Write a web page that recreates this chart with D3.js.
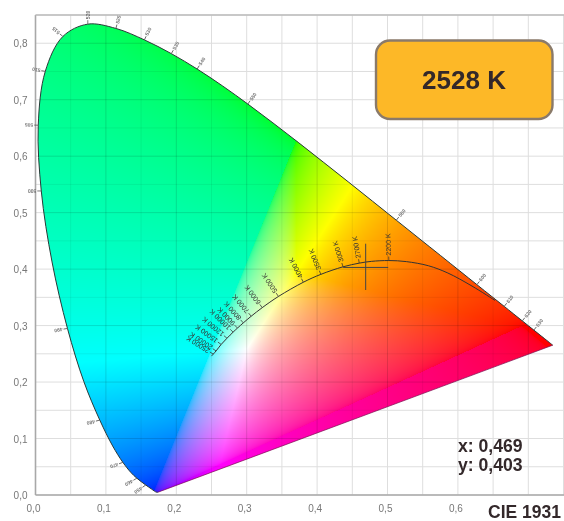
<!DOCTYPE html>
<html><head><meta charset="utf-8">
<style>html,body{margin:0;padding:0;background:#fff}svg{display:block;filter:blur(.45px)}</style>
<script src="https://cdn.jsdelivr.net/npm/d3@7"></script></head><body>
<script>
const xTicks=[0,0.1,0.2,0.3,0.4,0.5,0.6];
const yTicks=[0,0.1,0.2,0.3,0.4,0.5,0.6,0.7,0.8];
const gridX=d3.range(0,16).map(i=>i*0.05);
const gridY=d3.range(0,18).map(i=>i*0.05);
const locusX=[.1741,.1733,.1726,.1714,.1689,.1644,.1566,.1440,.1355,.1241,.1096,.0913,.0687,.0454,.0235,.0082,.0039,.0139,.0389,.0743,.1142,.1547,.1929,.2296,.2658,.3016,.3373,.3731,.4087,.4441,.4788,.5125,.5448,.5752,.6029,.6270,.6482,.6658,.6915,.7079,.7190,.7260,.7300,.7347];
const locusY=[.0050,.0048,.0048,.0051,.0069,.0109,.0177,.0297,.0399,.0578,.0868,.1327,.2007,.2950,.4127,.5384,.6548,.7502,.8120,.8338,.8262,.8059,.7816,.7543,.7243,.6923,.6589,.6245,.5896,.5547,.5202,.4866,.4544,.4242,.3965,.3725,.3514,.3340,.3083,.2920,.2809,.2740,.2700,.2653];
const nmLabels=[450,460,470,480,490,500,505,510,515,520,525,530,535,540,550,580,600,610,620,630];
const nmX=[.1566,.1440,.1241,.0913,.0454,.0082,.0039,.0139,.0389,.0743,.1142,.1547,.1929,.2296,.3016,.5125,.6270,.6658,.6915,.7079];
const nmY=[.0177,.0297,.0578,.1327,.2950,.5384,.6548,.7502,.8120,.8338,.8262,.8059,.7816,.7543,.6923,.4866,.3725,.3340,.3083,.2920];
const nmAngle=[-215,-210,-200,-195,-190,-180,-178,-170,-140,-90,-75,-65,-60,-58,-55,-52,-52,-52,-52,-52];
const planckX=[.2500,.2525,.2565,.2637,.2720,.2807,.2869,.2952,.3064,.3221,.3451,.3805,.4053,.4369,.4599,.4770,.5019,.5267,.5580,.5857,.6200,.6527];
const planckY=[.2460,.2495,.2551,.2666,.2776,.2884,.2956,.3048,.3166,.3318,.3516,.3768,.3907,.4041,.4106,.4137,.4152,.4133,.4060,.3931,.3700,.3445];
const cctLabels=["25000 K","20000 K","15000 K","12000 K","10000 K","9000 K","8000 K","7000 K","6000 K","5000 K","4000 K","3500 K","3000 K","2700 K","2200 K"];
const cctX=[.2525,.2565,.2637,.2720,.2807,.2869,.2952,.3064,.3221,.3451,.3805,.4053,.4369,.4599,.5019];
const cctY=[.2495,.2551,.2666,.2776,.2884,.2956,.3048,.3166,.3318,.3516,.3768,.3907,.4041,.4106,.4152];
const cctAngle=[-148,-146,-144,-140,-136,-134,-132,-130,-127,-124,-118,-112,-108,-100,-92];
const cctRead=["2528 K"];const readX=[.469];const readY=[.403];

const W=564,H=521;
const x=d3.scaleLinear().domain([0,0.75]).range([35.5,563.5]);
const y=d3.scaleLinear().domain([0,0.85]).range([495,15]);
const comma=d=>d.toFixed(1).replace('.',',');
const svg=d3.select('body').append('svg').attr('width',W).attr('height',H);
svg.append('rect').attr('width',W).attr('height',H).attr('fill','#fff');

const g0=svg.append('g');
g0.selectAll('.vx').data(gridX).join('line').attr('x1',d=>x(d)).attr('x2',d=>x(d)).attr('y1',y(0.85)).attr('y2',y(0)).attr('stroke','#dedede').attr('stroke-width',1);
g0.selectAll('.hy').data(gridY).join('line').attr('y1',d=>y(d)).attr('y2',d=>y(d)).attr('x1',x(0)).attr('x2',W).attr('stroke','#dedede').attr('stroke-width',1);

const cv=document.createElement('canvas');cv.width=W;cv.height=H;
const ctx=cv.getContext('2d');const img=ctx.createImageData(W,H);
const P={r:[.69,.30],g:[.37,.63],b:[.165,0]},wp=[.30,.26];
function bary(px,py){
 const d=(P.g[1]-P.b[1])*(P.r[0]-P.b[0])+(P.b[0]-P.g[0])*(P.r[1]-P.b[1]);
 const a=((P.g[1]-P.b[1])*(px-P.b[0])+(P.b[0]-P.g[0])*(py-P.b[1]))/d;
 const b=((P.b[1]-P.r[1])*(px-P.b[0])+(P.r[0]-P.b[0])*(py-P.b[1]))/d;
 return [a,b,1-a-b];
}
const w0=bary(wp[0],wp[1]);
const gammas=[1/2.4,1/2.0,1/3.2];
const cut=0.35,soft=0.06;
for(let j=0;j<H;j++)for(let i=0;i<W;i++){
 const bc=bary(x.invert(i),y.invert(j));
 let c=bc.map((v,k)=>Math.max(0,v/w0[k]));
 const m=Math.max(c[0],c[1],c[2])||1;
 c=c.map(v=>v/m);
 const s=cut*Math.min(c[0],c[1]);
 c[2]=Math.max(0,(c[2]-s)/(1-s));
 const fade=s>0?(c[2]/(c[2]+soft))*(1+soft):1;
 c=c.map((v,k)=>Math.pow(v,gammas[k])*255);
 c[2]*=fade;
 const o=(j*W+i)*4;img.data[o]=c[0];img.data[o+1]=c[1];img.data[o+2]=c[2];img.data[o+3]=255;
}
ctx.putImageData(img,0,0);
const pts=locusX.map((v,i)=>[x(v),y(locusY[i])]);
const locusLine=d3.line().curve(d3.curveCatmullRom);
svg.append('clipPath').attr('id','lc').append('path').attr('d',locusLine(pts)+'Z');
svg.append('image').attr('href',cv.toDataURL()).attr('width',W).attr('height',H).attr('clip-path','url(#lc)');

const g1=svg.append('g').attr('clip-path','url(#lc)');
g1.selectAll('.v').data(gridX).join('line').attr('x1',d=>x(d)).attr('x2',d=>x(d)).attr('y1',y(0.85)).attr('y2',y(0)).attr('stroke','#000').attr('stroke-opacity',(d,i)=>i%2?0.06:0.13);
g1.selectAll('.h').data(gridY).join('line').attr('y1',d=>y(d)).attr('y2',d=>y(d)).attr('x1',x(0)).attr('x2',W).attr('stroke','#000').attr('stroke-opacity',(d,i)=>i%2?0.06:0.13);

svg.append('line').attr('x1',x(0)).attr('x2',x(0)).attr('y1',y(.85)).attr('y2',y(0)).attr('stroke','#a8a8a8').attr('stroke-width',1.6);
svg.append('line').attr('x1',x(0)).attr('x2',W).attr('y1',y(0)).attr('y2',y(0)).attr('stroke','#a8a8a8').attr('stroke-width',1.6);
svg.append('line').attr('x1',x(0)).attr('x2',W).attr('y1',y(.85)).attr('y2',y(.85)).attr('stroke','#bbb').attr('stroke-width',1.4);

svg.append('path').attr('d',locusLine(pts)).attr('fill','none').attr('stroke','#2a3a38').attr('stroke-width',1);
svg.append('line').attr('x1',pts[0][0]).attr('y1',pts[0][1]).attr('x2',pts[pts.length-1][0]).attr('y2',pts[pts.length-1][1]).attr('stroke','#7a1050').attr('stroke-width',1).attr('stroke-opacity',.7);

const nm=svg.append('g').selectAll('g').data(nmLabels).join('g').attr('transform',(d,i)=>`translate(${x(nmX[i])},${y(nmY[i])}) rotate(${nmAngle[i]})`);
nm.append('line').attr('x2',4).attr('stroke','#555').attr('stroke-width',.8);
nm.append('text').attr('x',5).attr('dy','.35em').attr('font-family','Liberation Sans').attr('font-size',5).attr('font-weight','bold').attr('fill','#777').text(d=>d);

const pl=planckX.map((v,i)=>[x(v),y(planckY[i])]);
svg.append('path').attr('d',d3.line().curve(d3.curveCatmullRom)(pl)).attr('fill','none').attr('stroke','#333').attr('stroke-width',1);
const ct=svg.append('g').selectAll('g').data(cctLabels).join('g').attr('transform',(d,i)=>`translate(${x(cctX[i])},${y(cctY[i])}) rotate(${cctAngle[i]})`);
ct.append('line').attr('x2',4).attr('stroke','#333').attr('stroke-width',.7);
ct.append('text').attr('x',5).attr('dy','.35em').attr('font-family','Liberation Sans').attr('font-size',7).attr('fill','#333').text(d=>d);

const cross=svg.append('g').attr('stroke','#444').attr('stroke-width',1);
cross.append('line').attr('x1',x(readX[0])).attr('x2',x(readX[0])).attr('y1',y(readY[0]+.042)).attr('y2',y(readY[0]-.04));
cross.append('line').attr('x1',x(readX[0]-.032)).attr('x2',x(readX[0]+.032)).attr('y1',y(readY[0])).attr('y2',y(readY[0]));

const txt=svg.append('g').attr('font-family','Liberation Sans').attr('font-size',10).attr('fill','#777');
txt.selectAll('.xl').data(xTicks).join('text').attr('x',d=>x(d)-2).attr('y',512).attr('text-anchor','middle').text(comma);
txt.selectAll('.yl').data(yTicks).join('text').attr('x',27.5).attr('y',d=>y(d)+4).attr('text-anchor','end').text(comma);

svg.append('rect').attr('x',376).attr('y',40.5).attr('width',176.5).attr('height',78.5).attr('rx',14).attr('fill','#fdb827').attr('stroke','#8a7a6a').attr('stroke-width',2.4);
const bold=svg.append('g').attr('font-family','Liberation Sans').attr('font-weight','bold').attr('fill','#33282a');
bold.append('text').attr('x',464).attr('y',89).attr('text-anchor','middle').attr('font-size',26).text(cctRead[0]);
bold.append('text').attr('x',458).attr('y',452).attr('font-size',17.6).text('x: 0,469');
bold.append('text').attr('x',458).attr('y',471).attr('font-size',17.6).text('y: 0,403');
bold.append('text').attr('x',488).attr('y',518).attr('font-size',17.5).text('CIE 1931');
</script></body></html>
